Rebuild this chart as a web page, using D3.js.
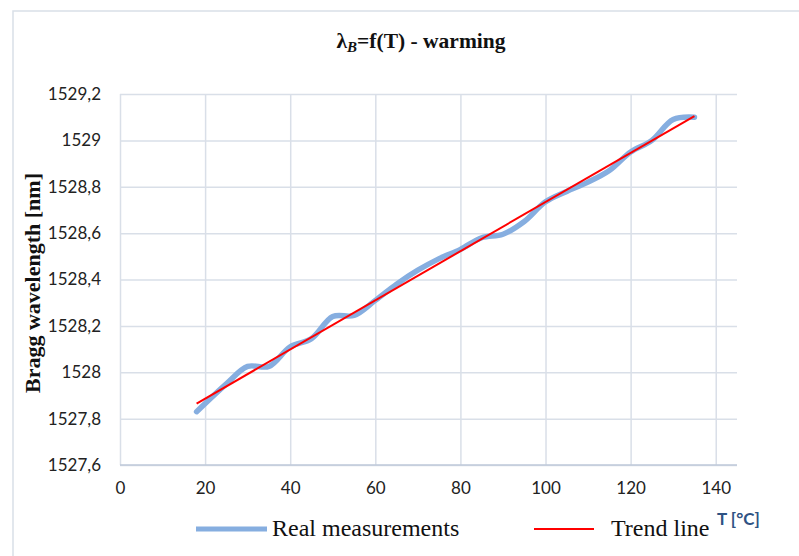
<!DOCTYPE html>
<html>
<head>
<meta charset="utf-8">
<script src="https://cdn.jsdelivr.net/npm/d3@7/dist/d3.min.js"></script>
<style>
  html, body { margin: 0; padding: 0; background: #fff; }
  svg { display: block; }
</style>
</head>
<body>
<svg id="chart" width="799" height="556"></svg>
<script>
// ---- data ----
const temperatures = [18, 25, 30, 35, 40, 45, 50, 55, 60, 65, 70, 75, 80, 85, 90, 95, 100, 105, 110, 115, 120, 125, 130, 135];
const wavelengths = [1527.83, 1527.95, 1528.025, 1528.025, 1528.11, 1528.145, 1528.24, 1528.245, 1528.31, 1528.38, 1528.44, 1528.49, 1528.53, 1528.58, 1528.595, 1528.65, 1528.735, 1528.78, 1528.82, 1528.87, 1528.95, 1529.0, 1529.09, 1529.1];
const trendT = [18, 135];
const trendV = [1527.865, 1529.105];
const xTicks = [0, 20, 40, 60, 80, 100, 120, 140];
const xTickLabels = ["0", "20", "40", "60", "80", "100", "120", "140"];
const yTicks = [1527.6, 1527.8, 1528.0, 1528.2, 1528.4, 1528.6, 1528.8, 1529.0, 1529.2];
const yTickLabels = ["1527,6", "1527,8", "1528", "1528,2", "1528,4", "1528,6", "1528,8", "1529", "1529,2"];
const seriesNames = ["Real measurements", "Trend line"];

// ---- layout ----
const svg = d3.select("#chart");
const plot = { left: 120, right: 737, top: 94, bottom: 465 };
const x = d3.scaleLinear().domain([0, 145]).range([plot.left, plot.right]);
const y = d3.scaleLinear().domain([1527.6, 1529.2]).range([plot.bottom, plot.top]);

const gridColor = "#D9DFE8";
const serif = "'Liberation Serif', 'DejaVu Serif', serif";
const sans = "Lato, 'Open Sans', sans-serif";

// chart border
svg.append("rect").attr("x", 13).attr("y", 11).attr("width", 800).attr("height", 560)
  .attr("fill", "none").attr("stroke", "#D9DFE8").attr("stroke-width", 1.5);

// gridlines
const gy = svg.append("g")
  .attr("transform", `translate(${plot.left},0)`)
  .call(d3.axisLeft(y).tickValues(yTicks).tickSize(-(plot.right - plot.left)).tickFormat(""));
gy.select(".domain").remove();
gy.selectAll("line").attr("stroke", gridColor).attr("stroke-width", 1.5);

const gx = svg.append("g")
  .attr("transform", `translate(0,${plot.bottom})`)
  .call(d3.axisBottom(x).tickValues(xTicks).tickSize(-(plot.bottom - plot.top)).tickFormat(""));
gx.select(".domain").remove();
gx.selectAll("line").attr("stroke", gridColor).attr("stroke-width", 1.5);

// bottom axis line
svg.append("line").attr("x1", plot.left).attr("x2", plot.right)
  .attr("y1", y(1527.6)).attr("y2", y(1527.6))
  .attr("stroke", "#BFCADA").attr("stroke-width", 1.5);

// tick labels
const yLab = svg.append("g")
  .attr("transform", `translate(${plot.left},0)`)
  .call(d3.axisLeft(y).tickValues(yTicks).tickSize(0).tickPadding(19)
    .tickFormat((d, i) => yTickLabels[i]));
yLab.select(".domain").remove();
yLab.selectAll("text").attr("font-family", sans).attr("font-size", 17).attr("fill", "#222");

const xLab = svg.append("g")
  .attr("transform", `translate(0,${plot.bottom})`)
  .call(d3.axisBottom(x).tickValues(xTicks).tickSize(0).tickPadding(17)
    .tickFormat((d, i) => xTickLabels[i]));
xLab.select(".domain").remove();
xLab.selectAll("text").attr("font-family", sans).attr("font-size", 17).attr("fill", "#222");

// data series
const pts = temperatures.map((t, i) => [t, wavelengths[i]]);
const line = d3.line().x(d => x(d[0])).y(d => y(d[1])).curve(d3.curveCatmullRom.alpha(0.5));
svg.append("path").datum(pts).attr("d", line)
  .attr("fill", "none").attr("stroke", "#86AEE0").attr("stroke-width", 5.5)
  .attr("stroke-linecap", "round").attr("stroke-linejoin", "round");

const tpts = trendT.map((t, i) => [t, trendV[i]]);
svg.append("path").datum(tpts).attr("d", d3.line().x(d => x(d[0])).y(d => y(d[1])))
  .attr("fill", "none").attr("stroke", "#FF0000").attr("stroke-width", 2);

// title
const title = svg.append("text").attr("x", 421).attr("y", 48).attr("text-anchor", "middle")
  .attr("font-family", serif).attr("font-weight", "bold").attr("font-size", 21.5).attr("fill", "#111");
title.append("tspan").text("λ");
title.append("tspan").attr("font-style", "italic").attr("font-size", 15).attr("dy", 4).text("B");
title.append("tspan").attr("dy", -4).text("=f(T) - warming");

// y axis title
svg.append("text")
  .attr("transform", `translate(40,283) rotate(-90)`)
  .attr("text-anchor", "middle")
  .attr("font-family", serif).attr("font-weight", "bold").attr("font-size", 22).attr("fill", "#111")
  .text("Bragg wavelength [nm]");

// x axis title
svg.append("text").attr("x", 717).attr("y", 525)
  .attr("font-family", sans).attr("font-weight", "bold").attr("font-size", 17).attr("fill", "#2E5283")
  .text("T [°C]");

// legend
const lg = svg.append("g");
lg.append("line").attr("x1", 196).attr("x2", 267).attr("y1", 529).attr("y2", 529)
  .attr("stroke", "#86AEE0").attr("stroke-width", 5);
lg.append("text").attr("x", 272).attr("y", 536)
  .attr("font-family", serif).attr("font-size", 24).attr("fill", "#111").text(seriesNames[0]);
lg.append("line").attr("x1", 534).attr("x2", 594).attr("y1", 529).attr("y2", 529)
  .attr("stroke", "#FF0000").attr("stroke-width", 2);
lg.append("text").attr("x", 611).attr("y", 536)
  .attr("font-family", serif).attr("font-size", 24).attr("fill", "#111").text(seriesNames[1]);
</script>
</body>
</html>
